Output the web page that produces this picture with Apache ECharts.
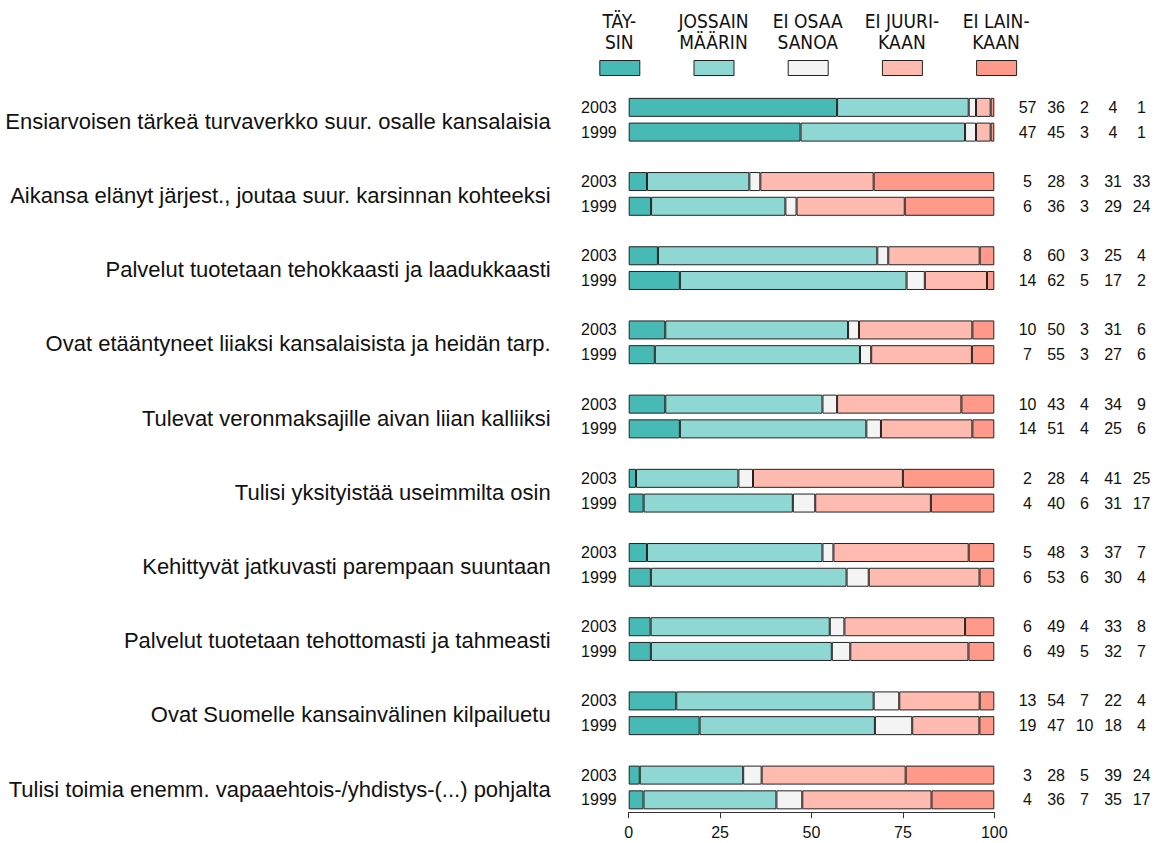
<!DOCTYPE html>
<html>
<head>
<meta charset="utf-8">
<script src="https://cdn.jsdelivr.net/npm/echarts@6/dist/echarts.min.js"></script>
<style>
  html, body { margin: 0; padding: 0; background: #fff; }
  #chart { width: 1169px; height: 843px; }
</style>
</head>
<body>
<div id="chart"></div>
<script>
// statements, top to bottom
var groups = [
  "Ensiarvoisen tärkeä turvaverkko suur. osalle kansalaisia",
  "Aikansa elänyt järjest., joutaa suur. karsinnan kohteeksi",
  "Palvelut tuotetaan tehokkaasti ja laadukkaasti",
  "Ovat etääntyneet liiaksi kansalaisista ja heidän tarp.",
  "Tulevat veronmaksajille aivan liian kalliiksi",
  "Tulisi yksityistää useimmilta osin",
  "Kehittyvät jatkuvasti parempaan suuntaan",
  "Palvelut tuotetaan tehottomasti ja tahmeasti",
  "Ovat Suomelle kansainvälinen kilpailuetu",
  "Tulisi toimia enemm. vapaaehtois-/yhdistys-(...) pohjalta"
];
var years = ["2003", "1999"];
var seriesNames = ["TÄYSIN", "JOSSAIN MÄÄRIN", "EI OSAA SANOA", "EI JUURIKAAN", "EI LAINKAAN"];
var legendLabels = ["TÄY-\nSIN", "JOSSAIN\nMÄÄRIN", "EI OSAA\nSANOA", "EI JUURI-\nKAAN", "EI LAIN-\nKAAN"];

// percentages per answer, one value per statement
var taysin2003 = [57, 5, 8, 10, 10, 2, 5, 6, 13, 3];
var taysin1999 = [47, 6, 14, 7, 14, 4, 6, 6, 19, 4];
var jossain2003 = [36, 28, 60, 50, 43, 28, 48, 49, 54, 28];
var jossain1999 = [45, 36, 62, 55, 51, 40, 53, 49, 47, 36];
var eiOsaa2003 = [2, 3, 3, 3, 4, 4, 3, 4, 7, 5];
var eiOsaa1999 = [3, 3, 5, 3, 4, 6, 6, 5, 10, 7];
var eiJuuri2003 = [4, 31, 25, 31, 34, 41, 37, 33, 22, 39];
var eiJuuri1999 = [4, 29, 17, 27, 25, 31, 30, 32, 18, 35];
var eiLain2003 = [1, 33, 4, 6, 9, 25, 7, 8, 4, 24];
var eiLain1999 = [1, 24, 2, 6, 6, 17, 4, 7, 4, 17];

var colors = ["#47BAB5", "#8FD7D2", "#F4F4F4", "#FFBBAF", "#FF9A8B"];

var byYear = [
  [taysin2003, jossain2003, eiOsaa2003, eiJuuri2003, eiLain2003],
  [taysin1999, jossain1999, eiOsaa1999, eiJuuri1999, eiLain1999]
];

// one row per bar, with an empty row between statements
var rowKeys = [], rowYear = [], rowGroup = [], rowNums = [];
for (var g = 0; g < groups.length; g++) {
  for (var y = 0; y < years.length; y++) {
    rowKeys.push(g + "-" + y);
    rowYear.push(years[y]);
    rowGroup.push(y === 0 ? groups[g] : "");
    rowNums.push(byYear[y].map(function (arr) { return arr[g]; }));
  }
  if (g < groups.length - 1) {
    rowKeys.push(g + "-gap");
    rowYear.push("");
    rowGroup.push("");
    rowNums.push(null);
  }
}

var textColor = "#111";
var legendX0 = 599.3, legendStep = 94.2;

var series = seriesNames.map(function (name, k) {
  var s = {
    name: name,
    type: "bar",
    stack: "total",
    barWidth: 19,
    itemStyle: { color: colors[k], borderColor: "#222", borderWidth: 1 },
    emphasis: { disabled: true },
    data: rowNums.map(function (nums) {
      if (!nums) return "-";
      var sum = nums.reduce(function (a, b) { return a + b; }, 0);
      return nums[k] / sum * 100;
    })
  };
  if (k === seriesNames.length - 1) {
    s.label = {
      show: true,
      position: "right",
      distance: 19,
      formatter: function (p) {
        var nums = rowNums[p.dataIndex];
        if (!nums) return "";
        return nums.map(function (n) { return "{n|" + n + "}"; }).join("");
      },
      rich: {
        n: { width: 28.5, align: "center", fontSize: 16, color: textColor, fontFamily: "Liberation Sans, Arial, sans-serif" }
      }
    };
  }
  return s;
});

var chartDom = document.getElementById("chart");
var myChart = echarts.init(chartDom, null, { renderer: "svg" });

var option = {
  animation: false,
  color: colors,
  grid: { left: 628.7, right: 174.7, top: 95, bottom: 30.8, containLabel: false },
  legend: seriesNames.map(function (name, k) {
    return {
      data: [name],
      left: legendX0 + k * legendStep,
      top: 60,
      itemWidth: 40,
      itemHeight: 15,
      padding: 0,
      selectedMode: false,
      icon: "rect",
      itemStyle: { borderColor: "#222", borderWidth: 1 },
      formatter: function () { return ""; }
    };
  }),
  graphic: legendLabels.map(function (txt, k) {
    return {
      type: "text",
      x: legendX0 + k * legendStep + 20,
      y: 31.3,
      style: {
        text: txt,
        align: "center",
        verticalAlign: "middle",
        fontSize: 19,
        lineHeight: 20.7,
        fontFamily: "Liberation Sans Narrow, DejaVu Sans Condensed, sans-serif",
        fill: textColor
      }
    };
  }),
  xAxis: {
    type: "value",
    min: 0,
    max: 100,
    interval: 25,
    splitLine: { show: false },
    axisLine: { show: true, lineStyle: { color: "#333", width: 1 } },
    axisTick: { show: true, length: 6, lineStyle: { color: "#333" } },
    axisLabel: { fontSize: 16, color: textColor, margin: 12, fontFamily: "Liberation Sans, Arial, sans-serif" }
  },
  yAxis: [
    {
      type: "category",
      inverse: true,
      data: rowKeys,
      axisLine: { show: false },
      axisTick: { show: false },
      axisLabel: {
        interval: 0,
        margin: 12,
        fontSize: 16,
        color: textColor,
        fontFamily: "Liberation Sans, Arial, sans-serif",
        formatter: function (v, i) { return rowYear[i]; }
      }
    },
    {
      type: "category",
      inverse: true,
      position: "left",
      data: rowKeys,
      axisLine: { show: false },
      axisTick: { show: false },
      axisLabel: {
        interval: 0,
        margin: 78,
        formatter: function (v, i) { return rowGroup[i] ? "{g|" + rowGroup[i] + "}" : ""; },
        rich: {
          g: { fontSize: 22, color: textColor, padding: [28, 0, 0, 0], fontFamily: "Liberation Sans, Arial, sans-serif" }
        }
      }
    }
  ],
  series: series
};

if (option && typeof option === "object") {
  myChart.setOption(option);
}
window.addEventListener("resize", myChart.resize);
</script>
</body>
</html>
